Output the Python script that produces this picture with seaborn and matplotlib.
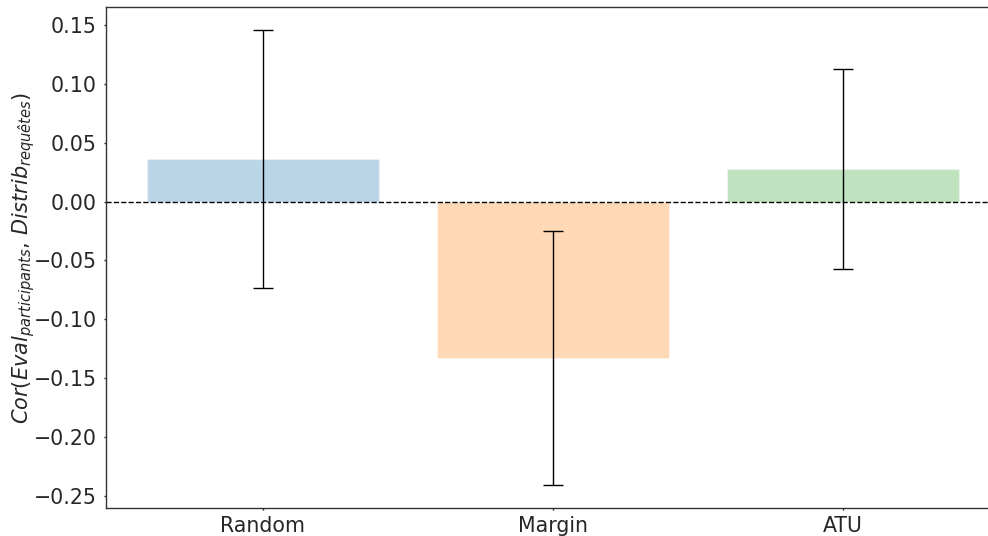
import matplotlib
matplotlib.use("Agg")
import matplotlib.pyplot as plt
import seaborn as sns
import pandas as pd

# Mean correlation per query strategy, with the spread shown as error bars
strategies = ["Random", "Margin", "ATU"]
correlations = [0.0364, -0.1330, 0.0275]
errors = [0.1094, 0.1077, 0.0850]
colors = ["#1f77b4", "#ff7f0e", "#2ca02c"]

df = pd.DataFrame({"strategy": strategies, "cor": correlations})

sns.set_style("white")
plt.rcParams["font.family"] = ["DejaVu Sans"]

fig = plt.figure(figsize=(9.88, 5.36), dpi=100)
ax = fig.add_axes([106 / 988, 28 / 536, 894 / 988, 501 / 536])

sns.barplot(data=df, x="strategy", y="cor", hue="strategy", palette=colors,
            saturation=1, alpha=0.3, width=0.8, errorbar=None, legend=False, ax=ax)
ax.errorbar(x=range(len(strategies)), y=correlations, yerr=errors,
            fmt="none", ecolor="black", elinewidth=1, capsize=7, capthick=1)
ax.axhline(0, color="black", linestyle="--", linewidth=1)

ax.set_xlim(-0.541, 2.541)
ax.set_ylim(-0.26, 0.165)
ax.set_xlabel("")
ax.set_ylabel(r"$Cor(Eval_{participants},\,Distrib_{requêtes})$", fontsize=15)
ax.yaxis.set_label_coords(-0.077, 0.5)
ax.tick_params(axis="both", labelsize=14.8, length=1.5, width=1, pad=5,
               left=True, bottom=True)
ax.tick_params(axis="x", pad=4)
for s in ax.spines.values():
    s.set_color("#333333")
    s.set_linewidth(1)

fig.savefig("out.png", dpi=100)
